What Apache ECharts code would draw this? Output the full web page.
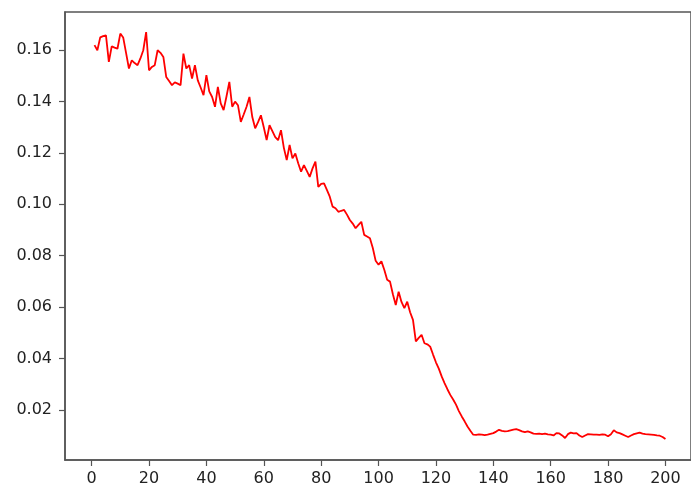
<!DOCTYPE html>
<html>
<head>
<meta charset="utf-8">
<script src="https://cdn.jsdelivr.net/npm/echarts@6/dist/echarts.min.js"></script>
<style>
html,body{margin:0;padding:0;background:#fff;}
#chart{width:691px;height:488px;}
</style>
</head>
<body>
<div id="chart"></div>
<script>
var xStart = 1;
var values = [
0.1620,0.1600,0.1650,0.1655,0.1658,0.1555,0.1615,0.1610,0.1606,0.1665,
0.1650,0.1590,0.1529,0.1561,0.1550,0.1542,0.1568,0.1600,0.1671,0.1522,
0.1535,0.1542,0.1600,0.1590,0.1574,0.1496,0.1480,0.1464,0.1475,0.1470,
0.1464,0.1587,0.1529,0.1542,0.1490,0.1542,0.1483,0.1455,0.1425,0.1503,
0.1440,0.1418,0.1380,0.1457,0.1393,0.1367,0.1420,0.1477,0.1380,0.1400,
0.1386,0.1321,0.1350,0.1380,0.1418,0.1340,0.1296,0.1320,0.1347,0.1300,
0.1250,0.1308,0.1285,0.1262,0.1250,0.1289,0.1220,0.1172,0.1231,0.1179,
0.1198,0.1160,0.1127,0.1153,0.1130,0.1107,0.1140,0.1166,0.1068,0.1080,
0.1082,0.1056,0.1030,0.0991,0.0985,0.0971,0.0975,0.0978,0.0960,0.0939,
0.0925,0.0907,0.0920,0.0932,0.0881,0.0875,0.0868,0.0830,0.0780,0.0765,
0.0778,0.0745,0.0706,0.0699,0.0650,0.0608,0.0660,0.0620,0.0596,0.0621,
0.0580,0.0550,0.0466,0.0480,0.0492,0.0459,0.0455,0.0446,0.0415,0.0385,
0.0360,0.0330,0.0304,0.0280,0.0258,0.0240,0.0220,0.0195,0.0174,0.0155,
0.0135,0.0118,0.0103,0.0102,0.0104,0.0103,0.0101,0.0103,0.0106,0.0109,
0.0115,0.0122,0.0118,0.0116,0.0117,0.0120,0.0123,0.0125,0.0121,0.0116,
0.0113,0.0116,0.0112,0.0107,0.0106,0.0107,0.0105,0.0107,0.0104,0.0103,
0.0100,0.0109,0.0108,0.0100,0.0090,0.0105,0.0111,0.0108,0.0109,0.0100,
0.0094,0.0100,0.0105,0.0104,0.0103,0.0103,0.0102,0.0104,0.0103,0.0097,
0.0105,0.0120,0.0112,0.0109,0.0104,0.0099,0.0094,0.0100,0.0105,0.0108,
0.0111,0.0107,0.0105,0.0104,0.0103,0.0102,0.0100,0.0099,0.0094,0.0086
];
var xTicks = [0,20,40,60,80,100,120,140,160,180,200];
var yTicks = [0.02,0.04,0.06,0.08,0.10,0.12,0.14,0.16];

var seriesData = values.map(function(v,i){ return [xStart + i, v]; });

var axisColor = '#555';
var labelStyle = {color:'#222', fontFamily:'DejaVu Sans', fontSize:16};

var chart = echarts.init(document.getElementById('chart'), null, {renderer:'canvas'});
chart.setOption({
  animation:false,
  backgroundColor:'#fff',
  grid:{left:65, top:12, width:635, height:448, show:true, borderColor:axisColor, borderWidth:1.5, backgroundColor:'transparent'},
  xAxis:{
    type:'value', min:-9.28, max:208.9,
    splitLine:{show:false},
    axisLine:{show:true, onZero:false, lineStyle:{color:axisColor, width:1.5}},
    axisTick:{show:true, length:6, lineStyle:{color:axisColor, width:1.2}, customValues:xTicks},
    axisLabel:Object.assign({margin:11, customValues:xTicks, formatter:function(v){return String(v);}}, labelStyle)
  },
  yAxis:{
    type:'value', min:0.00044, max:0.1749,
    splitLine:{show:false},
    axisLine:{show:true, onZero:false, lineStyle:{color:axisColor, width:1.5}},
    axisTick:{show:true, length:6, lineStyle:{color:axisColor, width:1.2}, customValues:yTicks},
    axisLabel:Object.assign({margin:13, customValues:yTicks, formatter:function(v){return v.toFixed(2);}}, labelStyle)
  },
  series:[{
    type:'line',
    data:seriesData,
    showSymbol:false,
    symbol:'none',
    lineStyle:{color:'#ff0000', width:1.8},
    clip:true
  }]
});
</script>
</body>
</html>
